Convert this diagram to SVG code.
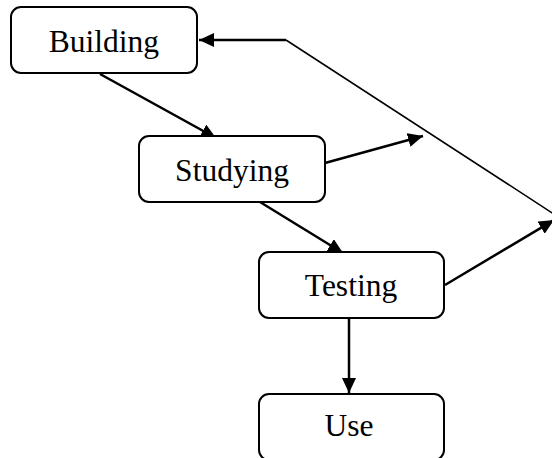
<svg xmlns="http://www.w3.org/2000/svg" width="552" height="458" viewBox="0 0 552 458">
<style>
.box{fill:#fff;stroke:#000;stroke-width:2}
.lbl{font-family:"Liberation Serif","Times New Roman",serif;font-size:31.5px;fill:#000;text-anchor:middle;dominant-baseline:central}
.ln{fill:none;stroke:#000;stroke-width:2.5}
.thin{fill:none;stroke:#000;stroke-width:1.5}
</style>
<defs>
<marker id="ah" markerUnits="userSpaceOnUse" markerWidth="16" markerHeight="14" refX="15" refY="7" orient="auto">
<path d="M0,0 L15,7 L0,14 Z" fill="#000"/>
</marker>
</defs>
<rect width="552" height="458" fill="#fff"/>
<g id="connectors">
<path class="ln" d="M286,40 L199,40" marker-end="url(#ah)"/>
<path class="thin" d="M286,40 L560,218"/>
<path class="ln" d="M100,74 L216,138" marker-end="url(#ah)"/>
<path class="ln" d="M325,163 L423,136" marker-end="url(#ah)"/>
<path class="ln" d="M260,202 L343,253" marker-end="url(#ah)"/>
<path class="ln" d="M445,285 L554,220" marker-end="url(#ah)"/>
<path class="ln" d="M349,318 L349,393" marker-end="url(#ah)"/>
</g>
<g id="building">
<rect class="box" x="11" y="7" width="186" height="66" rx="10"/>
<text class="lbl" x="104" y="41">Building</text>
</g>
<g id="studying">
<rect class="box" x="139" y="136" width="186" height="66" rx="10"/>
<text class="lbl" x="232" y="170">Studying</text>
</g>
<g id="testing">
<rect class="box" x="259" y="252" width="185" height="66" rx="10"/>
<text class="lbl" x="351" y="285">Testing</text>
</g>
<g id="use">
<rect class="box" x="259" y="394" width="185" height="66" rx="10"/>
<text class="lbl" x="349" y="425">Use</text>
</g>
</svg>
